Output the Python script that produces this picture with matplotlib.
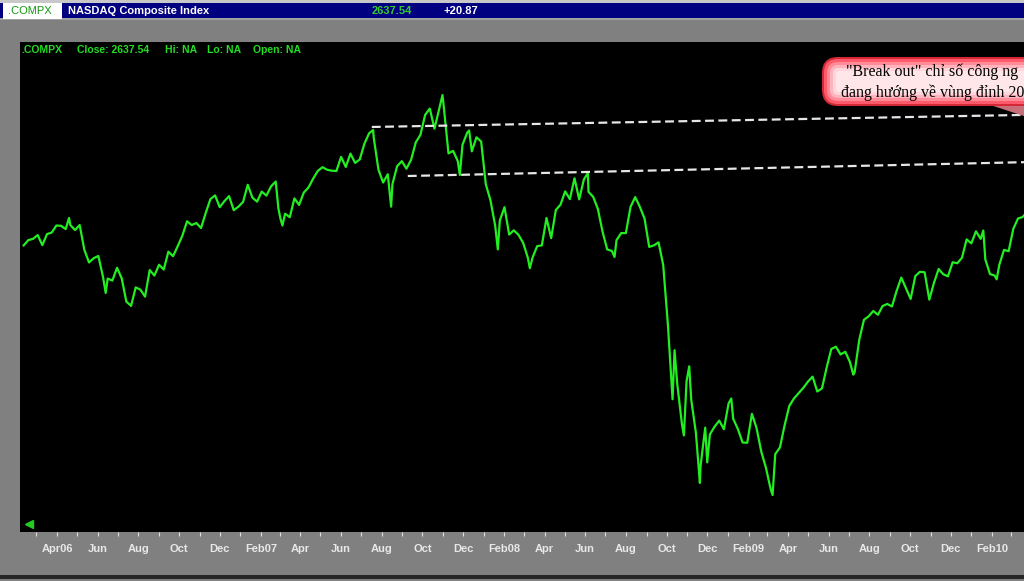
import numpy as np
import pandas as pd
import matplotlib
matplotlib.use("Agg")
from matplotlib import pyplot as plt
from matplotlib.patches import Rectangle, FancyBboxPatch, Polygon
from matplotlib.transforms import IdentityTransform

W, H = 1024, 581

# ---------------- data (weekly closes) ----------------
closes_2006 = [2261, 2282, 2287, 2302, 2262, 2306, 2312, 2340, 2339, 2326, 2342, 2322,
               2342, 2243, 2193, 2210, 2219, 2135, 2129, 2121, 2172, 2130, 2037, 2021,
               2094, 2085, 2057, 2163, 2141, 2184, 2165, 2236, 2218, 2258, 2300, 2357,
               2342, 2350, 2330, 2390, 2445, 2460, 2413, 2437, 2457, 2401, 2415]
closes_2007 = [2434, 2502, 2451, 2435, 2475, 2459, 2496, 2515, 2368, 2387, 2373, 2448,
               2422, 2471, 2491, 2526, 2557, 2572, 2562, 2558, 2557, 2613, 2573, 2626,
               2589, 2603, 2666, 2707, 2688, 2562, 2511, 2544, 2505, 2576, 2596, 2566,
               2602, 2671, 2701, 2780, 2805, 2725, 2804, 2811, 2627, 2637, 2596, 2661,
               2709, 2635, 2691, 2674]
closes_2008 = [2504, 2440, 2340, 2360, 2413, 2304, 2321, 2303, 2271, 2212, 2212, 2258,
               2261, 2370, 2290, 2402, 2423, 2476, 2445, 2528, 2444, 2523, 2474, 2454,
               2406, 2316, 2245, 2239, 2282, 2310, 2310, 2414, 2453, 2414, 2368, 2255,
               2261, 2273, 2183, 1947, 1649, 1711, 1552, 1721, 1647, 1516, 1384, 1536,
               1509, 1540, 1564, 1530]
closes_2009 = [1632, 1571, 1530, 1477, 1476, 1591, 1534, 1441, 1377, 1293, 1431, 1457,
               1545, 1622, 1652, 1673, 1694, 1719, 1739, 1680, 1692, 1774, 1849, 1858,
               1827, 1838, 1797, 1756, 1886, 1965, 1979, 2000, 1985, 2020, 2028, 2018,
               2080, 2133, 2090, 2048, 2139, 2156, 2154, 2045, 2112, 2167, 2146, 2138,
               2194, 2190, 2212, 2285, 2269]
closes_2010 = [2317, 2287, 2205, 2147, 2141, 2184, 2243, 2238, 2327, 2368, 2374, 2395,
               2402, 2454]

# single-day extremes seen as spikes in the chart
spike_dates = ['2006-04-19', '2006-06-13', '2006-07-21', '2007-02-27', '2007-03-05',
               '2007-07-19', '2007-08-15', '2007-10-31', '2007-11-26', '2007-12-10',
               '2008-01-22', '2008-03-10', '2008-06-05', '2008-07-15', '2008-10-13',
               '2008-10-27', '2008-11-04', '2008-11-20', '2008-12-01', '2009-01-06',
               '2009-03-09', '2009-07-08', '2010-01-19', '2010-02-08']
spike_values = [2370, 2072, 2020, 2407, 2340, 2720, 2415, 2859, 2541, 2718,
                2245, 2170, 2549, 2215, 1844, 1505, 1780, 1316, 1398, 1652,
                1268, 1747, 2320, 2126]

# the two dashed resistance lines
upper_line_dates = ['2007-07-17', '2010-03-21']
upper_line_values = [2732, 2780]
lower_line_dates = ['2007-09-09', '2010-03-21']
lower_line_values = [2537, 2592]

tick_months = ['2006-04', '2006-06', '2006-08', '2006-10', '2006-12', '2007-02',
               '2007-04', '2007-06', '2007-08', '2007-10', '2007-12', '2008-02',
               '2008-04', '2008-06', '2008-08', '2008-10', '2008-12', '2009-02',
               '2009-04', '2009-06', '2009-08', '2009-10', '2009-12', '2010-02']
tick_labels = ['Apr06', 'Jun', 'Aug', 'Oct', 'Dec', 'Feb07', 'Apr', 'Jun', 'Aug', 'Oct',
               'Dec', 'Feb08', 'Apr', 'Jun', 'Aug', 'Oct', 'Dec', 'Feb09', 'Apr', 'Jun',
               'Aug', 'Oct', 'Dec', 'Feb10']

# the callout is cut by the right edge of the screenshot
callout_lines = ['"Break out" chỉ số công ng', 'đang hướng về vùng đỉnh 20']

# ---------------- build series ----------------
values = closes_2006 + closes_2007 + closes_2008 + closes_2009 + closes_2010
dates = pd.date_range('2006-02-10', periods=len(values), freq='W-FRI')
s = pd.Series(values, index=dates)
s = pd.concat([s, pd.Series(spike_values, index=pd.to_datetime(spike_dates))]).sort_index()

GREEN = '#22ee22'
plt.rcParams['font.family'] = ['Liberation Sans', 'DejaVu Sans']

fig = plt.figure(figsize=(W / 100, H / 100), dpi=100, facecolor='#808080')


def pxbox(x0, y0, x1, y1, color, z=0):
    fig.add_artist(Rectangle((x0, H - y1), x1 - x0, y1 - y0, transform=IdentityTransform(),
                             facecolor=color, edgecolor='none', zorder=z))


def pxtext(x, y, txt, **kw):
    fig.text(x / W, 1 - y / H, txt, va='center', ha='left', **kw)


# top window bar
pxbox(0, 0, W, 3, '#c8c8c8')
pxbox(0, 3, W, 18, '#000080')
pxbox(0, 18, W, 20, '#a0a0a0')
pxbox(3, 3, 62, 19, '#ffffff', z=1)
pxtext(8, 11, '.COMPX', color='#119911', fontsize=8, zorder=2)
pxtext(68, 10.5, 'NASDAQ Composite Index', color='white', fontsize=8, fontweight='bold')
pxtext(372, 10.5, '2637.54', color='#33cc33', fontsize=8, fontweight='bold')
pxtext(443, 10.5, '+20.87', color='white', fontsize=8, fontweight='bold')
pxbox(0, 575, W, 579, '#262626')

# chart area
ax = fig.add_axes([20 / W, 49 / H, (W - 20) / W, 490 / H])
ax.set_facecolor('black')
for sp in ax.spines.values():
    sp.set_visible(False)

ax.plot(s.index, s.values, color=GREEN, linewidth=1.6)
ax.plot(pd.to_datetime(upper_line_dates), upper_line_values, color='#e6e6e6',
        linestyle=(0, (4, 2)), linewidth=1.6)
ax.plot(pd.to_datetime(lower_line_dates), lower_line_values, color='#e6e6e6',
        linestyle=(0, (4, 2)), linewidth=1.6)

ax.set_xlim(pd.Timestamp('2006-02-04 12:00'), pd.Timestamp('2010-03-21'))
ax.set_ylim(1121, 3070)
ax.set_yticks([])

ax.set_xticks(pd.to_datetime(tick_months))
ax.set_xticklabels(tick_labels)
ax.set_xticks(pd.date_range('2006-03-01', '2010-03-01', freq='MS'), minor=True)
ax.tick_params(axis='x', which='both', direction='out', length=3, width=0.8,
               color='#e0e0e0', labelcolor='#e8e8e8', labelsize=8, pad=6)
for lab in ax.get_xticklabels():
    lab.set_fontweight('bold')

# small green left arrow in the corner
ax.plot([0.009], [0.017], marker='<', color='#22cc22', markersize=6,
        transform=ax.transAxes, clip_on=False)

# header text inside the chart
hdr = dict(color='#22dd22', fontsize=7.5, fontweight='bold')
pxtext(21, 50, '.COMPX', **hdr)
pxtext(77, 50, 'Close: 2637.54', **hdr)
pxtext(165, 50, 'Hi: NA', **hdr)
pxtext(207, 50, 'Lo: NA', **hdr)
pxtext(253, 50, 'Open: NA', **hdr)

# pink callout
fig.add_artist(Polygon([(975, H - 100), (1030, H - 100), (1030, H - 118)], closed=True,
                       transform=IdentityTransform(), facecolor='#c8707a',
                       edgecolor='none', zorder=5))
layers = [(0, '#d42836'), (2, '#ff5a6c'), (5, '#ff8a98'), (8, '#ffb4bd'), (11, '#ffd6db'),
          (14, '#ffe6e8')]
for d, c in layers:
    fig.add_artist(FancyBboxPatch((822 + d, H - 106 + d), 260 - 2 * d, 49 - 2 * d,
                                  boxstyle='round,pad=0,rounding_size=%d' % max(16 - d, 4),
                                  transform=IdentityTransform(), facecolor=c,
                                  edgecolor='none', zorder=6))
pxtext(846, 72, callout_lines[0], color='black', fontsize=11.5,
       family=['Liberation Serif', 'DejaVu Serif'], zorder=7)
pxtext(841, 93, callout_lines[1], color='black', fontsize=11.5,
       family=['Liberation Serif', 'DejaVu Serif'], zorder=7)

fig.savefig('out.png', dpi=100, facecolor=fig.get_facecolor())
